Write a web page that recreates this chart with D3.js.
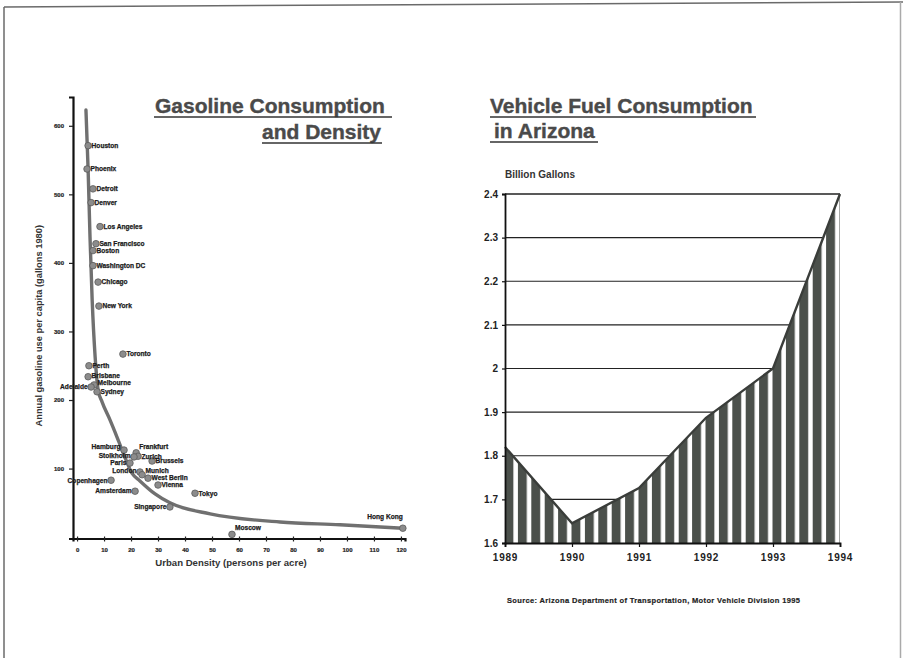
<!DOCTYPE html>
<html>
<head>
<meta charset="utf-8">
<script src="https://cdn.jsdelivr.net/npm/d3@7"></script>
<style>
  html, body { margin: 0; padding: 0; background: #fff; }
  svg { display: block; }
  text { font-family: "Liberation Sans", Arial, sans-serif; }
</style>
</head>
<body>
<svg id="chart" width="903" height="658"></svg>
<script>
// ---------- Left chart data: Gasoline consumption vs. urban density ----------
const cities = ["Houston","Phoenix","Detroit","Denver","Los Angeles","San Francisco","Boston",
  "Washington DC","Chicago","New York","Toronto","Perth","Brisbane","Melbourne","Adelaide","Sydney",
  "Hamburg","Frankfurt","Zurich","Stolkholm","Paris","Brussels","London","Munich","West Berlin",
  "Copenhagen","Vienna","Amsterdam","Tokyo","Singapore","Moscow","Hong Kong"];
const density = [4.1,3.7,5.9,5.2,8.5,7.0,5.9,5.9,7.8,8.1,17.0,4.4,4.1,6.3,5.2,7.4,
  17.4,21.9,22.6,21.1,19.6,27.8,23.3,24.1,26.3,12.6,30.0,21.5,43.7,34.4,57.4,120.7];
const gasoline = [571,537,508,488,453,428,418,396,372,337,267,250,234,222,219,212,
  127,123,118,117,108,111,95,91,86,83,76,67,64,44,4,13];
// fitted trend curve
const curveDensity = [3.3,4.1,4.8,5.6,6.7,7.8,9.3,12.2,14.8,16.7,20.4,23.3,28.9,34.4,49.3,75.2,97.4,120.7];
const curveGasoline = [623,536,438,346,263,215,197,171,146,127,93,82,63,50,34,22,18,13];
const densityTicks = [0,10,20,30,40,50,60,70,80,90,100,110,120];
const gasolineTicks = [100,200,300,400,500,600];

// ---------- Right chart data: Vehicle fuel consumption in Arizona ----------
const years = [1989,1990,1991,1992,1993,1994];
const fuelBillionGallons = [1.82,1.645,1.726,1.887,2.0,2.4];
const fuelTicks = [1.6,1.7,1.8,1.9,2.0,2.1,2.2,2.3,2.4];

// label placement (layout only)
const labelSide = {
  "Adelaide":"left","Hamburg":"left","Stolkholm":"left","Paris":"left","London":"left",
  "Copenhagen":"left","Amsterdam":"left","Singapore":"left",
  "Frankfurt":"aboveRight","Moscow":"aboveRight","Hong Kong":"aboveLeft"
};
const labelNudge = { "Melbourne":-2, "Hamburg":-3, "Munich":-4, "Stolkholm":-1, "Brisbane":-1, "London":-1 };

const svg = d3.select("#chart");

// page frame
const frame = svg.append("g").attr("stroke","#6a6a6a").attr("fill","none").attr("stroke-width",1.5);
frame.append("line").attr("x1",4).attr("y1",7).attr("x2",903).attr("y2",2);
frame.append("line").attr("x1",4).attr("y1",7).attr("x2",4).attr("y2",658);
frame.append("line").attr("x1",900.5).attr("y1",2).attr("x2",900.5).attr("y2",658).attr("stroke","#aaa");

// ======== LEFT CHART ========
const xL = d3.scaleLinear().domain([-1.5,121.5]).range([73,405]);
const yL = d3.scaleLinear().domain([-2,642]).range([538.5,97]);

// titles
const t1 = svg.append("g").attr("fill","#4a4a4a").attr("font-weight","bold").attr("font-size",21)
  .attr("stroke","#4a4a4a").attr("stroke-width",0.4);
t1.append("text").attr("x",155).attr("y",113).text("Gasoline Consumption");
t1.append("text").attr("x",381).attr("y",139).attr("text-anchor","end").text("and Density");
svg.append("line").attr("x1",154).attr("x2",392).attr("y1",117).attr("y2",117).attr("stroke","#333").attr("stroke-width",1.6);
svg.append("line").attr("x1",262).attr("x2",382).attr("y1",143).attr("y2",143).attr("stroke","#333").attr("stroke-width",1.6);

// axes
const gy = svg.append("g").attr("transform",`translate(${xL.range()[0]},0)`)
  .call(d3.axisLeft(yL).tickValues(gasolineTicks).tickSize(4).tickPadding(5).tickFormat(d3.format("d")));
const gx = svg.append("g").attr("transform",`translate(0,${yL(-2)})`)
  .call(d3.axisBottom(xL).tickValues(densityTicks).tickSize(3).tickPadding(6).tickFormat(d3.format("d")));
[gy,gx].forEach(g=>{
  g.select(".domain").attr("stroke","#111").attr("stroke-width",2.2);
  g.selectAll(".tick line").attr("stroke","#222").attr("stroke-width",1.2);
  g.selectAll(".tick text").attr("fill","#222").attr("font-weight","bold").attr("font-size",6)
    .attr("stroke","#222").attr("stroke-width",0.2)
    .attr("font-family","Liberation Sans, Arial, sans-serif");
});
gx.selectAll(".tick line").attr("y1",-2);

svg.append("text").attr("transform",`translate(42,${(yL(0)+yL(640))/2 + 8}) rotate(-90)`)
  .attr("text-anchor","middle").attr("font-weight","bold").attr("font-size",9.3).attr("fill","#333")
  .text("Annual gasoline use per capita (gallons 1980)");
svg.append("text").attr("x",231).attr("y",566).attr("text-anchor","middle")
  .attr("font-weight","bold").attr("font-size",9.6).attr("fill","#333")
  .text("Urban Density (persons per acre)");

// trend curve
const curvePts = curveDensity.map((d,i)=>[d,curveGasoline[i]]);
svg.append("path").datum(curvePts)
  .attr("d", d3.line().x(d=>xL(d[0])).y(d=>yL(d[1])).curve(d3.curveMonotoneX))
  .attr("fill","none").attr("stroke","#707070").attr("stroke-width",3.4).attr("stroke-linecap","round");

// points
const pts = cities.map((c,i)=>({name:c, x:density[i], y:gasoline[i]}));
svg.append("g").selectAll("circle").data(pts).join("circle")
  .attr("cx",d=>xL(d.x)).attr("cy",d=>yL(d.y)).attr("r",3.3)
  .attr("fill","#8c8c8c").attr("stroke","#5a5a5a").attr("stroke-width",0.8);

// labels
svg.append("g").selectAll("text").data(pts).join("text")
  .attr("font-size",6.6).attr("font-weight","bold").attr("fill","#1a1a1a")
  .attr("stroke","#1a1a1a").attr("stroke-width",0.25)
  .each(function(d){
    const side = labelSide[d.name] || "right";
    const px = xL(d.x), py = yL(d.y) + (labelNudge[d.name]||0);
    const t = d3.select(this);
    if (side==="right") t.attr("x",px+3.5).attr("y",py+2.3);
    else if (side==="left") t.attr("x",px-3.5).attr("y",py+2.3).attr("text-anchor","end");
    else if (side==="aboveRight") t.attr("x",px+3).attr("y",py-4);
    else if (side==="aboveLeft") t.attr("x",px).attr("y",py-9).attr("text-anchor","end");
  })
  .text(d=>d.name);

// ======== RIGHT CHART ========
const xR = d3.scaleLinear().domain([1989,1994]).range([505,840]);
const yR = d3.scaleLinear().domain([1.6,2.4]).range([543,194]);

const t2 = svg.append("g").attr("fill","#4a4a4a").attr("font-weight","bold").attr("font-size",21)
  .attr("stroke","#4a4a4a").attr("stroke-width",0.4);
t2.append("text").attr("x",490).attr("y",113).text("Vehicle Fuel Consumption");
t2.append("text").attr("x",494).attr("y",138).text("in Arizona");
svg.append("line").attr("x1",490).attr("x2",756).attr("y1",117).attr("y2",117).attr("stroke","#333").attr("stroke-width",1.6);
svg.append("line").attr("x1",490).attr("x2",598).attr("y1",142).attr("y2",142).attr("stroke","#333").attr("stroke-width",1.6);

svg.append("text").attr("x",505).attr("y",178).attr("font-weight","bold").attr("font-size",10)
  .attr("fill","#333").text("Billion Gallons");

// gridlines
svg.append("g").selectAll("line").data(fuelTicks.slice(1)).join("line")
  .attr("x1",xR(1989)).attr("x2",xR(1994)).attr("y1",d=>yR(d)).attr("y2",d=>yR(d))
  .attr("stroke","#222").attr("stroke-width",d=>d===2.4?1.6:1.1);

// striped area
const defs = svg.append("defs");
const pat = defs.append("pattern").attr("id","stripes").attr("patternUnits","userSpaceOnUse")
  .attr("x",504.5).attr("y",0).attr("width",13.4).attr("height",20);
pat.append("rect").attr("width",13.4).attr("height",20).attr("fill","#4b504b");
pat.append("rect").attr("x",8.9).attr("width",4.5).attr("height",20).attr("fill","#fff");

const fuelData = years.map((y,i)=>({year:y, v:fuelBillionGallons[i]}));
svg.append("path").datum(fuelData)
  .attr("d", d3.area().x(d=>xR(d.year)).y0(yR(1.6)).y1(d=>yR(d.v)))
  .attr("fill","url(#stripes)");
svg.append("path").datum(fuelData)
  .attr("d", d3.line().x(d=>xR(d.year)).y(d=>yR(d.v)))
  .attr("fill","none").attr("stroke","#3a3d3a").attr("stroke-width",2.4);

// axes
const gyR = svg.append("g").attr("transform",`translate(${xR(1989)},0)`)
  .call(d3.axisLeft(yR).tickValues(fuelTicks).tickSize(3).tickPadding(4).tickFormat(d=>d3.format("")(+d.toFixed(1))));
const gxR = svg.append("g").attr("transform",`translate(0,${yR(1.6)})`)
  .call(d3.axisBottom(xR).tickValues(years).tickSize(4).tickPadding(7).tickFormat(d3.format("d")));
[gyR,gxR].forEach(g=>{
  g.select(".domain").attr("stroke","#111").attr("stroke-width",1.8);
  g.selectAll(".tick line").attr("stroke","#111").attr("stroke-width",1.2);
  g.selectAll(".tick text").attr("fill","#222").attr("font-weight","bold").attr("font-size",10)
    .attr("font-family","Liberation Mono, monospace");
});
gxR.selectAll(".tick text").attr("letter-spacing",0.8);

// source
svg.append("text").attr("x",507).attr("y",603).attr("font-weight","bold").attr("font-size",7.5)
  .attr("letter-spacing",0.35).attr("fill","#222").attr("stroke","#222").attr("stroke-width",0.2)
  .text("Source: Arizona Department of Transportation, Motor Vehicle Division  1995");
</script>
</body>
</html>
